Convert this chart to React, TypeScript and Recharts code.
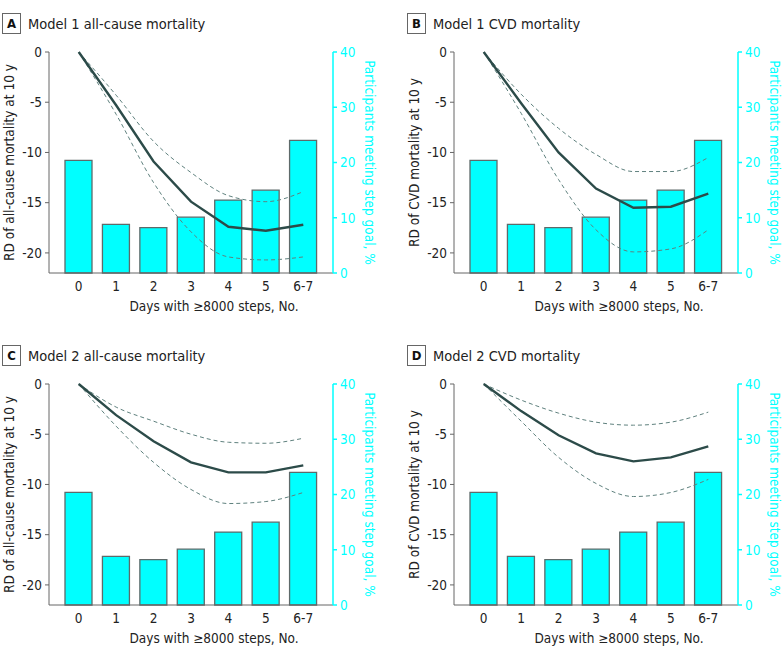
import { Bar, ComposedChart, Label, Line, XAxis, YAxis } from "recharts";

const FONT = '"DejaVu Sans Condensed", "DejaVu Sans", sans-serif';

const days = ["0", "1", "2", "3", "4", "5", "6-7"];
const participantsPct = [20.4, 8.8, 8.2, 10.1, 13.2, 15.0, 24.0];

const m1AllCauseRd = [0, -5.3, -10.9, -14.9, -17.4, -17.8, -17.2];
const m1AllCauseUpper = [0, -4.3, -8.9, -12.0, -14.3, -14.9, -13.9];
const m1AllCauseLower = [0, -6.2, -13.0, -17.9, -20.4, -20.7, -20.4];

const m1CvdRd = [0, -5.1, -10.0, -13.6, -15.5, -15.4, -14.1];
const m1CvdUpper = [0, -4.2, -7.6, -10.2, -11.9, -11.9, -10.5];
const m1CvdLower = [0, -6.1, -12.7, -17.7, -19.9, -19.6, -17.7];

const m2AllCauseRd = [0, -3.1, -5.7, -7.8, -8.8, -8.8, -8.1];
const m2AllCauseUpper = [0, -2.3, -3.7, -5.0, -5.8, -5.9, -5.4];
const m2AllCauseLower = [0, -4.2, -7.8, -10.5, -11.9, -11.7, -10.8];

const m2CvdRd = [0, -2.7, -5.1, -6.9, -7.7, -7.3, -6.2];
const m2CvdUpper = [0, -1.6, -2.9, -3.8, -4.1, -3.8, -2.8];
const m2CvdLower = [0, -3.7, -7.3, -9.9, -11.2, -10.8, -9.5];

const rdTicks = [0, -5, -10, -15, -20];
const pctTicks = [0, 10, 20, 30, 40];

const CYAN = "#00ffff";
const AXIS_GREY = "#666";
const LINE_DARK = "#2c4b49";
const LINE_DASH = "#5f817e";

type PanelProps = {
  letter: string;
  title: string;
  yLabel: string;
  rd: number[];
  upper: number[];
  lower: number[];
  left: number;
  top: number;
};

function leftLabel(text: string) {
  return (props: any) => {
    const vb = props.viewBox;
    const cx = vb.x + 9;
    const cy = vb.y + vb.height / 2;
    return (
      <text
        x={cx}
        y={cy}
        transform={`rotate(-90 ${cx} ${cy})`}
        textAnchor="middle"
        dominantBaseline="central"
        fill="#222"
        fontSize={13.5}
        fontFamily={FONT}
      >
        {text}
      </text>
    );
  };
}

function rightLabel(text: string) {
  return (props: any) => {
    const vb = props.viewBox;
    const cx = vb.x + 37;
    const cy = vb.y + vb.height / 2;
    return (
      <text
        x={cx}
        y={cy}
        transform={`rotate(90 ${cx} ${cy})`}
        textAnchor="middle"
        dominantBaseline="central"
        fill={CYAN}
        fontSize={13.5}
        fontFamily={FONT}
      >
        {text}
      </text>
    );
  };
}

function bottomLabel(text: string) {
  return (props: any) => {
    const vb = props.viewBox;
    return (
      <text
        x={vb.x + 165}
        y={vb.y + 33}
        textAnchor="middle"
        dominantBaseline="central"
        fill="#222"
        fontSize={13.5}
        fontFamily={FONT}
      >
        {text}
      </text>
    );
  };
}

function Panel({ letter, title, yLabel, rd, upper, lower, left, top }: PanelProps) {
  const data = days.map((day, i) => ({
    day,
    pct: participantsPct[i],
    rd: rd[i],
    upper: upper[i],
    lower: lower[i]
  }));

  return (
    <div style={{ position: "absolute", left, top, width: 391, height: 330 }}>
      <div
        style={{
          position: "absolute",
          left: 2,
          top: 13,
          width: 17,
          height: 19,
          border: `1px solid ${AXIS_GREY}`,
          fontFamily: FONT,
          fontWeight: "bold",
          fontSize: 13,
          lineHeight: "19px",
          textAlign: "center",
          color: "#111"
        }}
      >
        {letter}
      </div>
      <div
        style={{
          position: "absolute",
          left: 28,
          top: 14,
          fontFamily: FONT,
          fontSize: 14.5,
          lineHeight: "20px",
          color: "#222",
          whiteSpace: "nowrap"
        }}
      >
        {title}
      </div>
      <ComposedChart
        width={391}
        height={320}
        data={data}
        margin={{ top: 52, right: 0, bottom: 0, left: 0 }}
        style={{ position: "absolute", left: 0, top: 0 }}
      >
        <XAxis
          dataKey="day"
          height={47}
          padding={{ left: 11, right: 11 }}
          tickLine={false}
          axisLine={{ stroke: AXIS_GREY }}
          tick={{ fill: "#222", fontSize: 13.5, fontFamily: FONT }}
        >
          <Label content={bottomLabel("Days with ≥8000 steps, No.")} />
        </XAxis>
        <YAxis
          yAxisId="left"
          width={49}
          domain={[-22, 0]}
          ticks={rdTicks}
          interval={0}
          tickSize={4}
          tickMargin={3}
          axisLine={{ stroke: AXIS_GREY }}
          tickLine={{ stroke: AXIS_GREY }}
          tick={{ fill: "#222", fontSize: 13.5, fontFamily: FONT }}
        >
          <Label content={leftLabel(yLabel)} />
        </YAxis>
        <YAxis
          yAxisId="right"
          orientation="right"
          width={58}
          domain={[0, 40]}
          ticks={pctTicks}
          interval={0}
          tickSize={4}
          tickMargin={3}
          axisLine={{ stroke: CYAN, strokeWidth: 1.5 }}
          tickLine={{ stroke: CYAN, strokeWidth: 1.5 }}
          tick={{ fill: CYAN, fontSize: 13.5, fontFamily: FONT }}
        >
          <Label content={rightLabel("Participants meeting step goal, %")} />
        </YAxis>
        <Bar
          yAxisId="right"
          dataKey="pct"
          barSize={27}
          fill={CYAN}
          stroke="#5e6a6a"
          strokeWidth={1.3}
          isAnimationActive={false}
        />
        <Line
          yAxisId="left"
          type="monotone"
          dataKey="upper"
          stroke={LINE_DASH}
          strokeWidth={1}
          strokeDasharray="4 3"
          dot={false}
          isAnimationActive={false}
        />
        <Line
          yAxisId="left"
          type="monotone"
          dataKey="lower"
          stroke={LINE_DASH}
          strokeWidth={1}
          strokeDasharray="4 3"
          dot={false}
          isAnimationActive={false}
        />
        <Line
          yAxisId="left"
          type="linear"
          dataKey="rd"
          stroke={LINE_DARK}
          strokeWidth={2.4}
          dot={false}
          isAnimationActive={false}
        />
      </ComposedChart>
    </div>
  );
}

export default function App() {
  return (
    <div style={{ position: "absolute", left: 0, top: 0, width: 783, height: 658, background: "#fff" }}>
      <Panel
        letter="A"
        title="Model 1 all-cause mortality"
        yLabel="RD of all-cause mortality at 10 y"
        rd={m1AllCauseRd}
        upper={m1AllCauseUpper}
        lower={m1AllCauseLower}
        left={0}
        top={0}
      />
      <Panel
        letter="B"
        title="Model 1 CVD mortality"
        yLabel="RD of CVD mortality at 10 y"
        rd={m1CvdRd}
        upper={m1CvdUpper}
        lower={m1CvdLower}
        left={405}
        top={0}
      />
      <Panel
        letter="C"
        title="Model 2 all-cause mortality"
        yLabel="RD of all-cause mortality at 10 y"
        rd={m2AllCauseRd}
        upper={m2AllCauseUpper}
        lower={m2AllCauseLower}
        left={0}
        top={332}
      />
      <Panel
        letter="D"
        title="Model 2 CVD mortality"
        yLabel="RD of CVD mortality at 10 y"
        rd={m2CvdRd}
        upper={m2CvdUpper}
        lower={m2CvdLower}
        left={405}
        top={332}
      />
    </div>
  );
}
